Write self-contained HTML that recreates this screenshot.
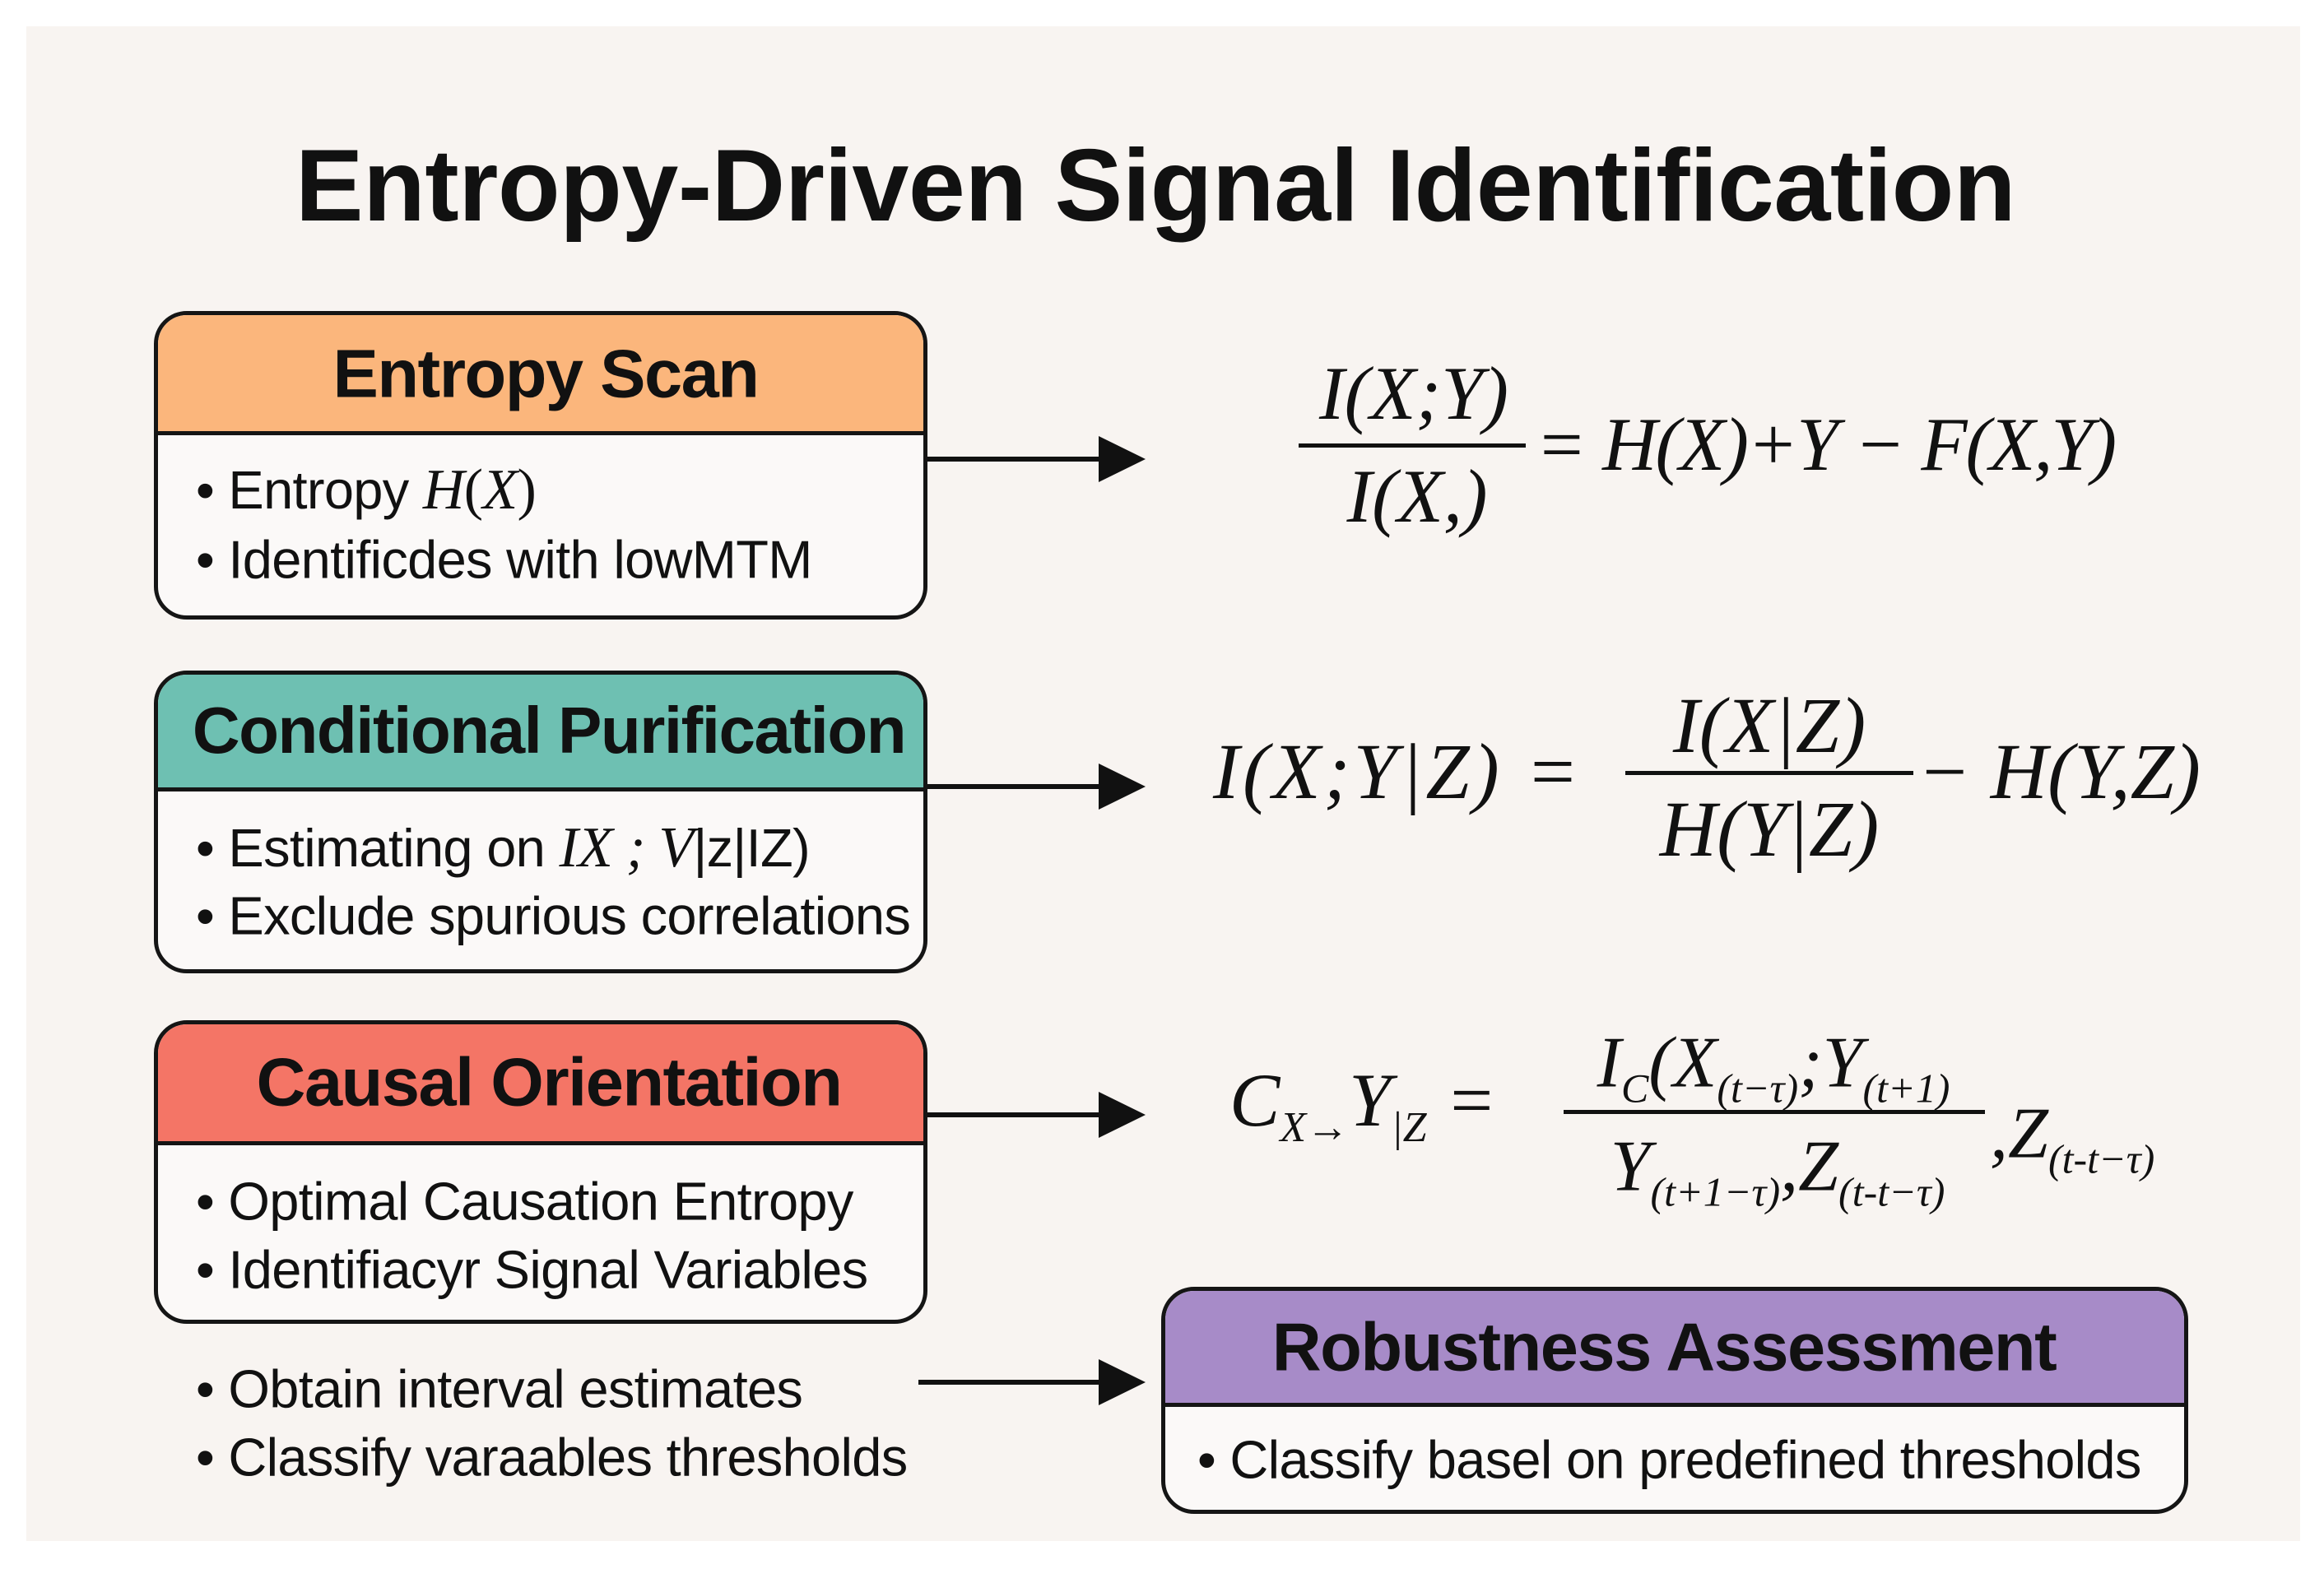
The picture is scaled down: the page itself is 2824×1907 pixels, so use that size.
<!DOCTYPE html>
<html><head><meta charset="utf-8"><style>
*{margin:0;padding:0;box-sizing:border-box}
body{width:2824px;height:1907px;background:#fff;position:relative;overflow:hidden;font-family:"Liberation Sans",sans-serif;color:#111}
.panel{position:absolute;left:32px;top:32px;width:2763px;height:1841px;background:#f8f4f1}
.t{position:absolute;white-space:nowrap;line-height:1;transform:translateY(-50%)}
.c{transform:translate(-50%,-50%)}
.box{position:absolute;border:5px solid #151515;border-radius:40px;background:#fbf9f8;overflow:hidden}
.hd{position:absolute;left:0;right:0;top:0;border-bottom:5px solid #151515}
.bt{font-size:65px;letter-spacing:-0.7px}
.ht{font-size:83px;font-weight:bold;letter-spacing:-1.5px}
.m{font-family:"Liberation Serif",serif;font-style:italic;font-size:92px}
.line{position:absolute;height:5px;background:#111}
</style></head><body>
<div class="panel"></div>
<div class="t c" style="left:1404px;top:226px;font-size:124px;font-weight:bold;letter-spacing:-0.5px">Entropy-Driven Signal Identification</div>

<div class="box" style="left:187px;top:378px;width:940px;height:375px"><div class="hd" style="height:146px;background:#fbb67c"></div></div>
<div class="t c ht" style="left:663px;top:454px">Entropy Scan</div>
<div class="t bt" style="left:238px;top:596px">• Entropy <span class="m" style="font-size:70px">H</span><span style="font-family:'Liberation Serif';font-size:70px">(</span><span class="m" style="font-size:70px">X</span><span style="font-family:'Liberation Serif';font-size:70px">)</span></div>
<div class="t bt" style="left:238px;top:680px">• Identificdes with lowMTM</div>

<div class="box" style="left:187px;top:815px;width:940px;height:368px"><div class="hd" style="height:142px;background:#6ec0b2"></div></div>
<div class="t c ht" style="left:667px;top:888px;font-size:80px">Conditional Purification</div>
<div class="t bt" style="left:238px;top:1031px">• Estimating on <span class="m" style="font-size:70px">IX ; V</span>|z|IZ)</div>
<div class="t bt" style="left:238px;top:1113px">• Exclude spurious correlations</div>

<div class="box" style="left:187px;top:1240px;width:940px;height:369px"><div class="hd" style="height:147px;background:#f47566"></div></div>
<div class="t c ht" style="left:667px;top:1315px">Causal Orientation</div>
<div class="t bt" style="left:238px;top:1460px">• Optimal Causation Entropy</div>
<div class="t bt" style="left:238px;top:1543px">• Identifiacyr Signal Variables</div>

<div class="t bt" style="left:238px;top:1688px">• Obtain interval estimates</div>
<div class="t bt" style="left:238px;top:1771px">• Classify varaables thresholds</div>

<div class="box" style="left:1411px;top:1564px;width:1248px;height:276px"><div class="hd" style="height:141px;background:#a78bc8"></div></div>
<div class="t c ht" style="left:2022px;top:1637px">Robustness Assessment</div>
<div class="t bt" style="left:1455px;top:1774px">• Classify basel on predefined thresholds</div>

<svg style="position:absolute;left:0;top:0" width="2824" height="1907">
<g stroke="#111" stroke-width="6" fill="#111">
<line x1="1127" y1="558" x2="1345" y2="558"/><polygon points="1335,530 1392,558 1335,586" stroke="none"/>
<line x1="1127" y1="956" x2="1345" y2="956"/><polygon points="1335,928 1392,956 1335,984" stroke="none"/>
<line x1="1127" y1="1355" x2="1345" y2="1355"/><polygon points="1335,1327 1392,1355 1335,1383" stroke="none"/>
<line x1="1116" y1="1680" x2="1345" y2="1680"/><polygon points="1335,1652 1392,1680 1335,1708" stroke="none"/>
</g></svg>

<!-- formula 1 -->
<div class="t c m" style="left:1718px;top:478px">I(X;Y)</div>
<div class="line" style="left:1578px;top:539px;width:276px;height:5px"></div>
<div class="t c m" style="left:1722px;top:603px">I(X,)</div>
<div class="t m" style="left:1866px;top:540px;letter-spacing:-2px">= H(X)+Y − F(X,Y)</div>

<!-- formula 2 -->
<div class="t m" style="left:1474px;top:938px;font-size:96px;letter-spacing:4px">I(X;Y|Z) =</div>
<div class="t c m" style="left:2150px;top:882px;font-size:96px">I(X|Z)</div>
<div class="line" style="left:1975px;top:937px;width:350px"></div>
<div class="t c m" style="left:2150px;top:1008px;font-size:96px">H(Y|Z)</div>
<div class="t m" style="left:2330px;top:938px;font-size:96px">− H(Y,Z)</div>

<!-- formula 3 -->
<div class="t m" style="left:1494px;top:1344px">C<sub style="font-size:52px">X→</sub>Y<sub style="font-size:52px">|Z</sub> =</div>
<div class="t c m" style="left:2155px;top:1298px;font-size:88px">I<sub style="font-size:50px">C</sub>(X<sub style="font-size:50px">(t−τ)</sub>;Y<sub style="font-size:50px">(t+1)</sub></div>
<div class="line" style="left:1900px;top:1349px;width:512px"></div>
<div class="t c m" style="left:2160px;top:1424px;font-size:88px">Y<sub style="font-size:50px">(t+1−τ)</sub>,Z<sub style="font-size:50px">(t-t−τ)</sub></div>
<div class="t m" style="left:2418px;top:1384px;font-size:88px">,Z<sub style="font-size:50px">(t-t−τ)</sub></div>
</body></html>
